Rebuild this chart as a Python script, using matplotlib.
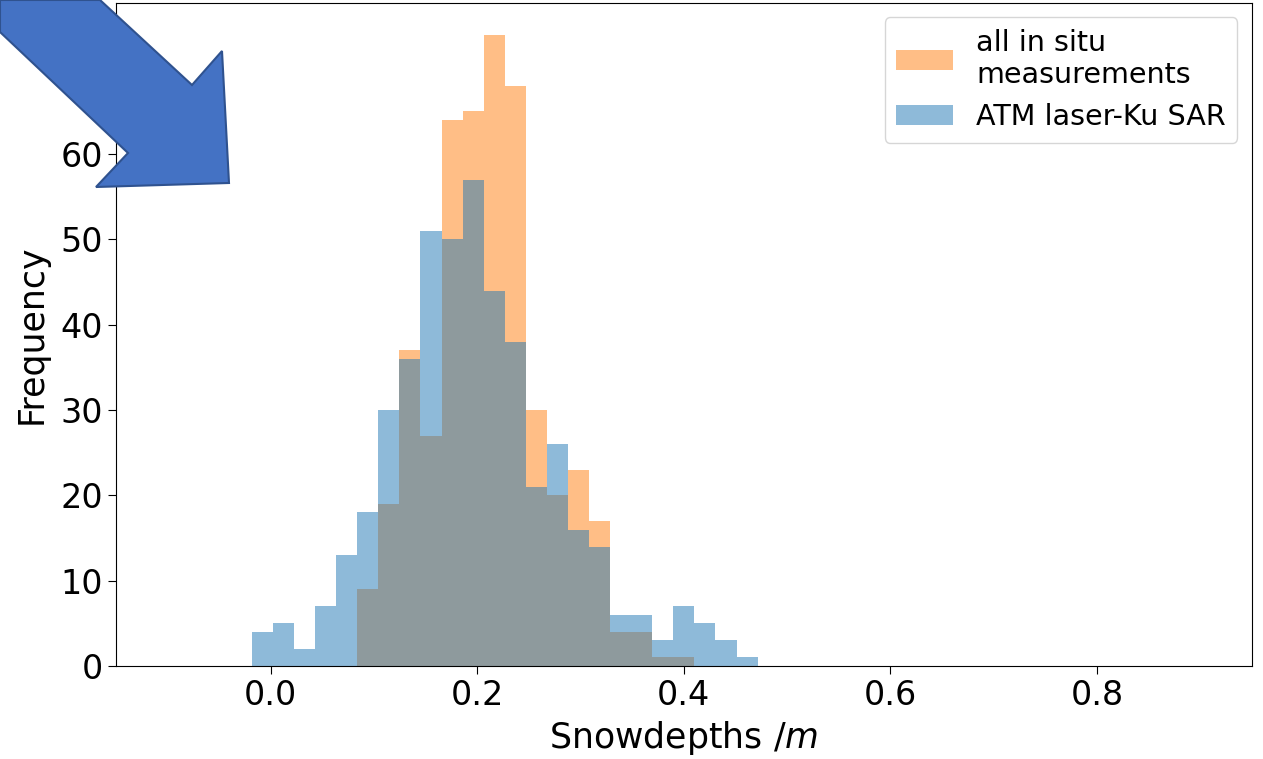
import numpy as np
import matplotlib.pyplot as plt
from matplotlib.patches import Polygon

# bins shared by both histograms
bin_edges = np.linspace(-0.1, 0.9, 50)
bin_centers = (bin_edges[:-1] + bin_edges[1:]) / 2

# counts per bin (index 0 = first bin starting at -0.1)
insitu_counts = np.zeros(49)
insitu_counts[9:25] = [9, 19, 37, 27, 64, 65, 74, 68, 30, 20, 23, 17, 4, 4, 1, 1]

atm_counts = np.zeros(49)
atm_counts[4:28] = [4, 5, 2, 7, 13, 18, 30, 36, 51, 50, 57, 44, 38, 21, 26, 16,
                    14, 6, 6, 3, 7, 5, 3, 1]

fig = plt.figure(figsize=(12.63, 7.59), dpi=100)
ax = fig.add_axes([0.0918, 0.1225, 0.8993, 0.8735])

ax.hist(bin_centers, bins=bin_edges, weights=insitu_counts, color='tab:orange',
        alpha=0.5, label='all in situ\nmeasurements')
ax.hist(bin_centers, bins=bin_edges, weights=atm_counts, color='tab:blue',
        alpha=0.5, label='ATM laser-Ku SAR')

ax.set_xlabel('Snowdepths /$m$', fontsize=25, labelpad=5)
ax.set_ylabel('Frequency', fontsize=25, labelpad=8)
ax.tick_params(labelsize=24, length=6)
ax.legend(fontsize=20.6, loc='upper right')

# blue arrow overlay in the top-left corner (figure pixel coords, y from top)
W, H = 1263, 759
arrow_px = [(100, 0), (192, 85), (222, 51), (229, 183), (96, 187), (128, 153),
            (0, 32), (0, 0)]
arrow_pts = [(x / W, 1 - y / H) for x, y in arrow_px]
fig.patches.append(Polygon(arrow_pts, closed=True, transform=fig.transFigure,
                           facecolor='#4472C4', edgecolor='#2F528F', lw=1.5,
                           zorder=10))

fig.savefig('out.png', dpi=100)
